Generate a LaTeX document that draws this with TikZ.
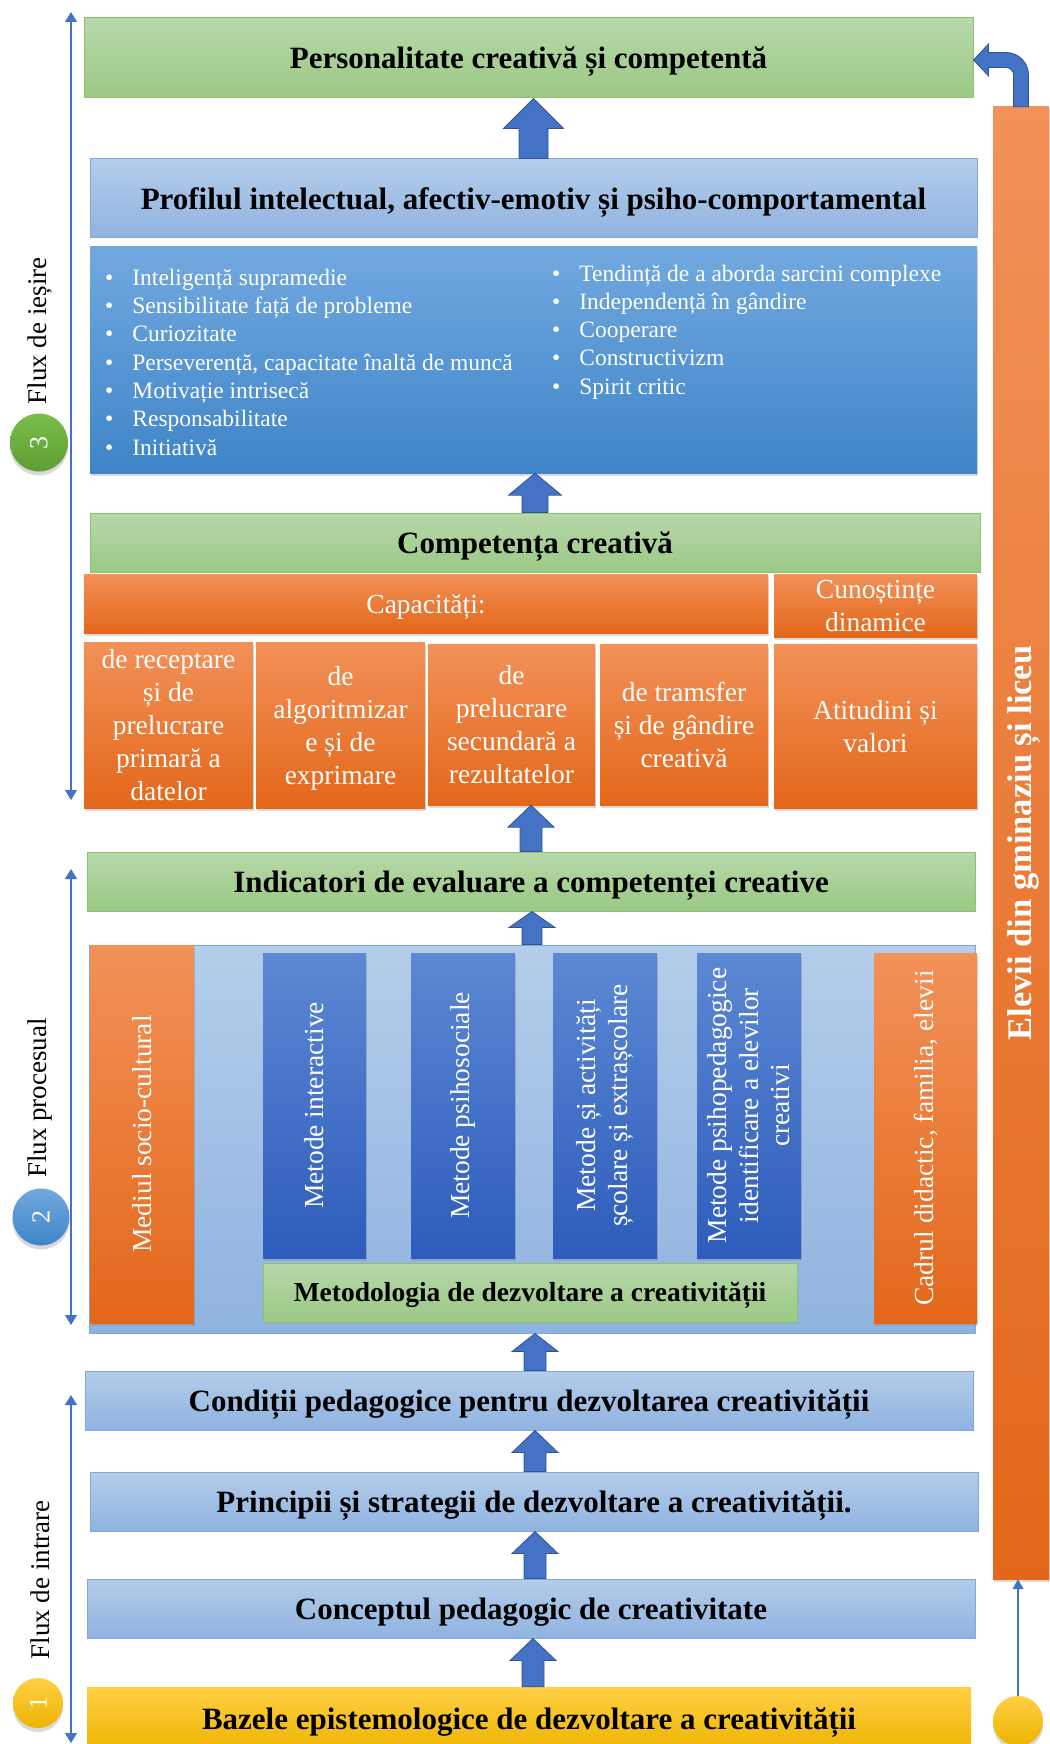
\documentclass[tikz,border=0pt]{standalone}
\usepackage{fontspec}
\setmainfont{Liberation Serif}
\usetikzlibrary{calc,shadows,arrows.meta}
\definecolor{gtop}{HTML}{B7D8A9}
\definecolor{gbot}{HTML}{9BC985}
\definecolor{gline}{HTML}{8CC26F}
\definecolor{lbtop}{HTML}{B4CDEA}
\definecolor{lbbot}{HTML}{8FB3E0}
\definecolor{lbline}{HTML}{80A8DB}
\definecolor{btop}{HTML}{72A8DF}
\definecolor{bbot}{HTML}{3E85C8}
\definecolor{otop}{HTML}{F29158}
\definecolor{obot}{HTML}{E3671A}
\definecolor{mtop}{HTML}{5C88D3}
\definecolor{mbot}{HTML}{2D5CBC}
\definecolor{ytop}{HTML}{FFCF45}
\definecolor{ybot}{HTML}{EDB400}
\definecolor{balltop}{HTML}{7ABD4C}
\definecolor{ballbot}{HTML}{5E9D34}
\definecolor{arrblue}{HTML}{4472C4}
\definecolor{arrline}{HTML}{2F5597}
\tikzset{
	greenbox/.style={rectangle, draw=gline, line width=1pt, top color=gtop, bottom color=gbot, inner sep=0pt, text height=28pt, text depth=6pt, font=\fontsize{31}{37}\selectfont\bfseries},
	bluebox/.style={rectangle, draw=lbline, line width=1pt, top color=lbtop, bottom color=lbbot, inner sep=0pt, text height=28pt, text depth=6pt, font=\fontsize{31}{37}\selectfont\bfseries},
	goldbox/.style={rectangle, top color=ytop, bottom color=ybot, inner sep=0pt, text height=25pt, text depth=6pt, font=\fontsize{31}{37}\selectfont\bfseries},
	listbox/.style={rectangle, top color=btop, bottom color=bbot, inner sep=0pt, drop shadow={shadow xshift=1pt, shadow yshift=-3pt, opacity=0.3}},
	orangebox/.style={rectangle, top color=otop, bottom color=obot, inner sep=0pt, text=white, align=center, text depth=0pt, font=\fontsize{27.5}{33}\selectfont, drop shadow={shadow xshift=1pt, shadow yshift=-3pt, opacity=0.3}},
	metbox/.style={rectangle, top color=mtop, bottom color=mbot, inner sep=0pt, drop shadow={shadow xshift=1pt, shadow yshift=-3pt, opacity=0.3}},
	vtext/.style={rotate=90, text=white, align=center, inner sep=0pt, font=\fontsize{27.5}{31.5}\selectfont},
	listitem/.style={anchor=base west, inner sep=0pt, text=white, font=\fontsize{23.5}{28}\selectfont},
	fluxtext/.style={rotate=90, inner sep=0pt, font=\fontsize{27}{32}\selectfont},
	fluxline/.style={draw=arrblue, line width=1.2pt, {Triangle[length=10pt,width=12pt]}-{Triangle[length=10pt,width=12pt]}},
	numball/.style={circle, inner sep=0pt, text=white, font=\fontsize{26}{30}\selectfont, drop shadow={shadow xshift=0pt, shadow yshift=-4pt, opacity=0.3}},
	blockup/.style n args={3}{draw=arrline, fill=arrblue, line width=0.8pt,
		to path={let \p1=(\tikztostart), \p2=(\tikztotarget) in
			-- (\x1+#1,\y1) -- (\x1+#1,\y2-#3) -- (\x1+#2,\y2-#3) -- (\x1,\y2)
			-- (\x1-#2,\y2-#3) -- (\x1-#1,\y2-#3) -- (\x1-#1,\y1) -- cycle}},
	bentarrow/.style={draw=arrline, fill=arrblue, line width=0.8pt,
		to path={let \p1=(\tikztostart), \p2=(\tikztotarget) in
			-- (\x1+7.5pt,\y1) -- (\x1+7.5pt,\y2-15pt) arc[start angle=0,end angle=90,radius=22.5pt]
			-- (\x2+15pt,\y2+7.5pt) -- (\x2+15pt,\y2+16pt) -- (\x2,\y2) -- (\x2+15pt,\y2-16pt)
			-- (\x2+15pt,\y2-7.5pt) -- (\x1-15pt,\y2-7.5pt) arc[start angle=90,end angle=0,radius=7.5pt]
			-- (\x1-7.5pt,\y1) -- cycle}}
}

\begin{document}
\begin{tikzpicture}[x=1pt,y=1pt]
	\useasboundingbox (0,0) rectangle (1049,-1744);
	
	% output level
	\node[greenbox, minimum width=889, minimum height=80] (pers) at (528.5,-58) {Personalitate creativă și competentă};
	\node[bluebox, minimum width=887, minimum height=79] (prof) at (533.5,-198.5) {Profilul intelectual, afectiv-emotiv și psiho-comportamental};
	\node[listbox, minimum width=887, minimum height=226] (calit) at (533.5,-360) {};
	\node[listitem] (l1) at (105,-285) {\textbullet\hspace{19pt}Inteligență supramedie};
	\node[listitem] (l2) at (105,-313) {\textbullet\hspace{19pt}Sensibilitate față de probleme};
	\node[listitem] (l3) at (105,-341) {\textbullet\hspace{19pt}Curiozitate};
	\node[listitem] (l4) at (105,-370) {\textbullet\hspace{19pt}Perseverență, capacitate înaltă de muncă};
	\node[listitem] (l5) at (105,-398) {\textbullet\hspace{19pt}Motivație intrisecă};
	\node[listitem] (l6) at (105,-426) {\textbullet\hspace{19pt}Responsabilitate};
	\node[listitem] (l7) at (105,-455) {\textbullet\hspace{19pt}Initiativă};
	\node[listitem] (r1) at (552,-281) {\textbullet\hspace{19pt}Tendință de a aborda sarcini complexe};
	\node[listitem] (r2) at (552,-309) {\textbullet\hspace{19pt}Independență în gândire};
	\node[listitem] (r3) at (552,-337) {\textbullet\hspace{19pt}Cooperare};
	\node[listitem] (r4) at (552,-365) {\textbullet\hspace{19pt}Constructivizm};
	\node[listitem] (r5) at (552,-394) {\textbullet\hspace{19pt}Spirit critic};
	
	\node[greenbox, minimum width=890, minimum height=59] (comp) at (535,-542.5) {Competența creativă};
	\node[orangebox, minimum width=684, minimum height=59, text height=25pt, text depth=6pt] (capac) at (426,-603.5) {Capacități:};
	\node[orangebox, minimum width=203, minimum height=63] (cunos) at (875.5,-605.5) {Cunoștințe\\dinamice};
	\node[orangebox, minimum width=169, minimum height=166] (c1) at (168.5,-725) {de receptare\\și de\\prelucrare\\primară a\\datelor};
	\node[orangebox, minimum width=169, minimum height=166] (c2) at (340.5,-725) {de\\algoritmizar\\e și de\\exprimare};
	\node[orangebox, minimum width=167, minimum height=161] (c3) at (511.5,-724.5) {de\\prelucrare\\secundară a\\rezultatelor};
	\node[orangebox, minimum width=168, minimum height=161] (c4) at (684,-724.5) {de tramsfer\\și de gândire\\creativă};
	\node[orangebox, minimum width=203, minimum height=164] (atit) at (875.5,-726) {Atitudini și\\valori};
	
	% process level
	\node[greenbox, minimum width=888, minimum height=59] (indic) at (531,-881.5) {Indicatori de evaluare a competenței creative};
	\node[rectangle, draw=lbline, line width=1pt, top color=lbtop, bottom color=lbbot, minimum width=886, minimum height=388] (frame) at (532,-1139) {};
	\node[orangebox, minimum width=104, minimum height=378] (mediu) at (142,-1134) {};
	\node[vtext] (mediut) at (mediu) {Mediul socio-cultural};
	\node[metbox, minimum width=103, minimum height=305] (m1) at (314.5,-1105.5) {};
	\node[vtext] (m1t) at (m1) {Metode interactive};
	\node[metbox, minimum width=104, minimum height=305] (m2) at (463,-1105.5) {};
	\node[vtext] (m2t) at (m2) {Metode psihosociale};
	\node[metbox, minimum width=104, minimum height=305] (m3) at (605,-1105.5) {};
	\node[vtext] (m3t) at (m3) {Metode și activități\\școlare și extrașcolare};
	\node[metbox, minimum width=104, minimum height=305] (m4) at (749,-1105.5) {};
	\node[vtext] (m4t) at (m4) {Metode psihopedagogice\\identificare a elevilor\\creativi};
	\node[orangebox, minimum width=103, minimum height=370] (cadru) at (925.5,-1138) {};
	\node[vtext] (cadrut) at (cadru) {Cadrul didactic, familia, elevii};
	\node[greenbox, minimum width=534, minimum height=59, text height=24pt, text depth=6pt, font=\fontsize{27.5}{33}\selectfont\bfseries] (metod) at (530,-1292.5) {Metodologia de dezvoltare a creativității};
	
	% input level
	\node[bluebox, minimum width=888, minimum height=59] (cond) at (529,-1400.5) {Condiții pedagogice pentru dezvoltarea creativității};
	\node[bluebox, minimum width=888, minimum height=59] (princ) at (534,-1501.5) {Principii și strategii de dezvoltare a creativității.};
	\node[bluebox, minimum width=888, minimum height=59] (conc) at (531,-1608.5) {Conceptul pedagogic de creativitate};
	\node[goldbox, minimum width=884, minimum height=65] (baze) at (529,-1719.5) {Bazele epistemologice de dezvoltare a creativității};
	
	% pupils bar
	\node[orangebox, minimum width=56, minimum height=1472] (elevii) at (1021,-843) {};
	\node[vtext, font=\fontsize{34.5}{40}\selectfont\bfseries] (elevt) at ([xshift=3pt]elevii) {Elevii din gminaziu și liceu};
	
	% block arrows
	\draw[blockup={14.5pt}{30pt}{30pt}] (prof.north) to (pers.south);
	\draw[blockup={13pt}{26.5pt}{22pt}] (comp.north) to (calit.south);
	\draw[blockup={11pt}{23pt}{22pt}] (indic.north) to (indic.north |- c3.south);
	\draw[blockup={10pt}{23pt}{16pt}] (frame.north) to (indic.south);
	\draw[blockup={11pt}{23pt}{18pt}] ([xshift=6pt]cond.north) to (frame.south);
	\draw[blockup={11pt}{23pt}{22pt}] ([xshift=1pt]princ.north) to (cond.south);
	\draw[blockup={11pt}{23pt}{22pt}] ([xshift=4pt]conc.north) to (princ.south);
	\draw[blockup={11pt}{23pt}{22pt}] ([xshift=4pt]baze.north) to (conc.south);
	\draw[bentarrow] (elevii.north) to ([yshift=-2pt]pers.east);
	
	% flows on the left
	\coordinate (f3a) at (71,-12);
	\coordinate (f3b) at (71,-800);
	\coordinate (f2a) at (71,-869);
	\coordinate (f2b) at (71,-1325);
	\coordinate (f1a) at (71,-1395);
	\coordinate (f1b) at (71,-1743);
	\draw[fluxline] (f3b) -- (f3a);
	\draw[fluxline] (f2b) -- (f2a);
	\draw[fluxline] (f1b) -- (f1a);
	\node[fluxtext] (f3t) at (40,-331) {Flux de ieșire};
	\node[fluxtext] (f2t) at (40,-1098) {Flux procesual};
	\node[fluxtext] (f1t) at (40,-1580) {Flux de intrare};
	\node[numball, top color=balltop, bottom color=ballbot, minimum size=58] (n3) at (39,-442.5) {\rotatebox{90}{3}};
	\node[numball, top color=btop, bottom color=bbot, minimum size=57] (n2) at (41,-1217) {\rotatebox{90}{2}};
	\node[numball, top color=ytop, bottom color=ybot, minimum size=50] (n1) at (38,-1703) {\rotatebox{90}{1}};
	
	% pupils entry
	\node[numball, top color=ytop, bottom color=ybot, minimum size=50] (nr) at (1018,-1721) {};
	\draw[draw=arrblue, line width=1.2pt, -{Triangle[length=10pt,width=11pt]}] (nr.north) -- (nr.north |- elevii.south);
\end{tikzpicture}
\end{document}
